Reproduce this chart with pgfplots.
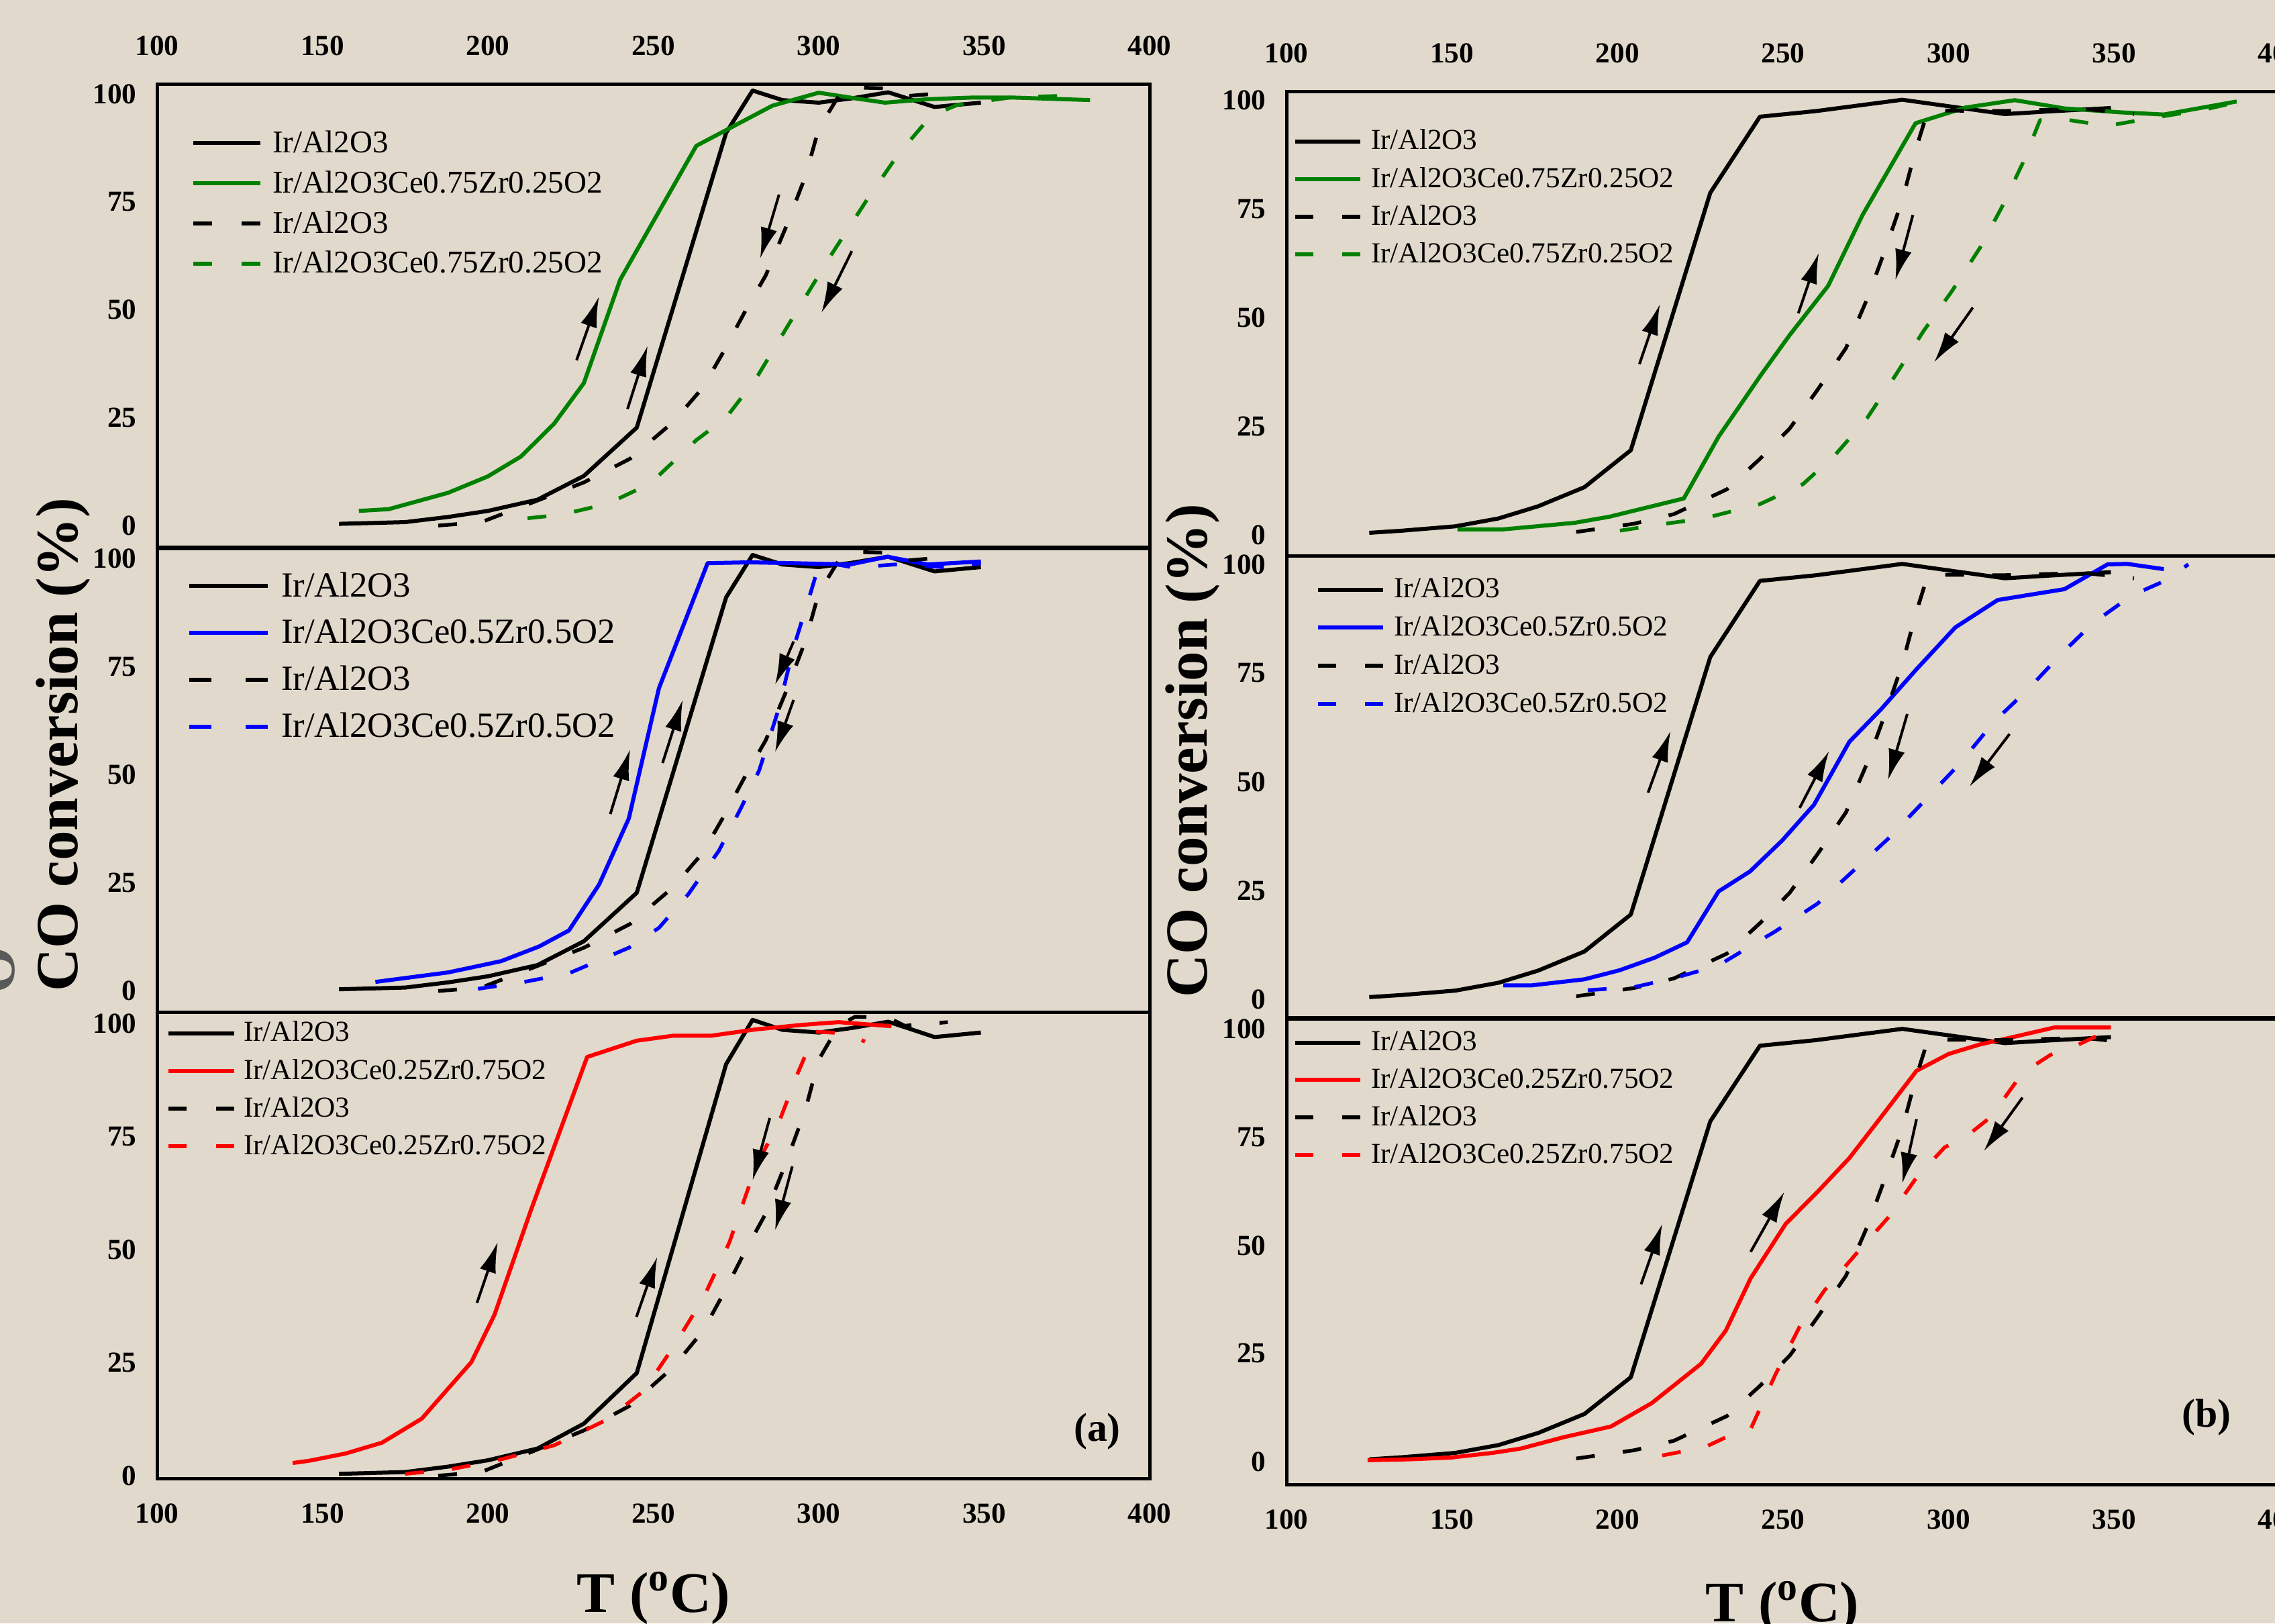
\documentclass[border=0pt]{standalone}
\usepackage{fontspec}
\setmainfont{Liberation Serif}
\usepackage{pgfplots}
\usepackage{pgfplotstable}
\pgfplotsset{compat=1.18}
\usetikzlibrary{arrows.meta}
\definecolor{bg}{RGB}{225,217,203}
\definecolor{cgreen}{RGB}{0,128,0}
\definecolor{cblue}{RGB}{0,0,255}
\definecolor{cred}{RGB}{255,0,0}

% ---------------- data ----------------
\pgfplotstableread{
x y
155 0.4
175 0.8
188 2.0
200 3.4
215 6.0
229 11.5
245 22.7
272 91
280 100.8
289 98.6
300 98.0
310 99.0
321 100.4
335 97.0
349 98.0
}\bsl
\pgfplotstableread{
x y
185 0
198 0.8
214 5.5
229 10
243 15.5
256 24
265 32
271 40
278 50
284 58
290 69
296 81
300 92
306 99.5
311 101.5
321 101.3
326 99.5
339 100.3
}\bdl
\pgfplotstableread{
x y
161 3.4
170 3.8
188 7.6
200 11.4
210 16
220 23.6
229 33
240 57
263 88
286 97.3
300 100.3
311 99
320 98
333 98.8
347 99.2
358 99.2
382 98.6
}\gsl
\pgfplotstableread{
x y
212 1.7
222 2.5
236 5
249 9.7
263 19.8
272 25
281 34
292 48
304 63
315 76
324 86
334 95
342 97.5
358 99.2
374 99.6
}\gdl
\pgfplotstableread{
x y
166 2.1
188 4.3
204 6.9
215.5 10.3
224.5 14
233.6 24.6
242.6 39.9
251.7 70
266.4 98.9
279 99.1
292.5 98.9
309.4 98.6
320.7 100.4
333 98.6
349 99.3
}\ubsl
\pgfplotstableread{
x y
197 0.5
211 2.1
224.5 4.1
242.6 10
251.7 14.6
260.6 22.4
269.8 32.4
276.5 42.3
282 51
287.8 65
292.4 79.4
297 90.7
300.4 99.3
310.6 97.9
323 98.6
340 97.9
349 98.9
}\ubdl
\pgfplotstableread{
x y
141 2.8
146 3.3
157 4.9
168 7.3
180 12.6
195 25.1
202 35.6
213 58.7
230 92.6
245 96.2
256 97.3
267.5 97.3
281 98.7
295 99.7
306 100.3
322 99.4
}\rsl
\pgfplotstableread{
x y
175 0.4
188 1.3
204 3.6
220 6.7
236 12.4
247 18.7
256 28.4
265 39.1
273 51.6
281 68.4
288 78.2
293.6 88.9
299 98.2
308 97.8
314 96
}\rdl
% right column
\pgfplotstableread{
x y
125 0.5
135 1.0
151 2.0
164 3.8
176 6.6
190 11
204 19.5
228 78.7
243 96.2
260 97.5
286 100.1
317 96.8
330 97.4
349 98.2
}\bsr
\pgfplotstableread{
x y
187.5 0.7
205 2.6
217 4.8
233 10.5
243 17.5
252 24.5
260.5 33.5
269 43
275.5 54.5
281 66
286 77
290 88.5
293.5 97
298.8 97.6
316 97.5
341 98
356 96.8
}\bdr
\pgfplotstableread{
x y
151.6 1.3
165.5 1.3
187 2.8
197.5 4.2
220 8.4
230.5 22.6
243.3 36.8
252 46
263.6 57.3
274 73.6
290 94.7
305 98.3
320 100
335 98.1
352 97.2
365 96.7
387 99.7
}\gsr
\pgfplotstableread{
x y
200.7 1
213.5 2.5
226 3.8
243 7.1
256 11.7
265.7 18.4
275.3 26.8
284 36.8
292.4 46.9
301 56.1
309.5 66.1
316 75.3
322.3 85.4
327.6 95.4
333 95.8
348 94.1
360.7 95.8
377.7 97.9
387.3 99.6
}\gdr
\pgfplotstableread{
x y
165.5 3.2
174 3.2
190 4.6
200.7 6.7
211.3 9.6
221 13.1
230.5 24.8
240 29.4
249.7 36.5
259.3 44.7
270 59.2
279.6 66.7
290.3 75.9
302 85.5
314.8 91.8
335 94.3
348 100
354 100.1
365 98.9
}\ubsr
\pgfplotstableread{
x y
191 2.1
205 2.8
217.7 5
230.5 7.8
239 11.7
247.6 15.6
260.4 22
272 30.1
281.7 36.9
292.4 45.4
303 53.9
313.7 63.8
324.4 71.6
334 79.4
343.6 86.5
355.4 92.9
365 96.1
372.4 100
}\ubdr
\pgfplotstableread{
x y
124.5 0.3
136.7 0.5
149.5 0.9
162.3 2
170.8 3
183.6 5.6
198 8.1
210.3 13.5
225.2 22.6
232.7 30.3
240.2 42.4
250.8 55
260.4 62.4
270 70.2
279.6 79.7
290.3 90.4
300 94.3
309.5 96.5
320 98.3
331.8 100.4
349 100.4
}\rsr
\pgfplotstableread{
x y
213.5 1.4
226.3 3.3
232.7 5.6
240.2 7.5
247.6 20
255 31.2
262.5 39.6
272 48
281.7 56.4
290.3 65.7
298.8 72.7
305 75
312.7 79.7
322.3 89.9
330.8 94.1
339.3 96.5
349 100
}\rdr

\tikzset{
  sl/.style={line width=0.6mm, line join=round},
  dl/.style={line width=0.55mm, line join=round, dash pattern=on 2.8mm off 4.2mm},
  arr/.style={line width=0.4mm, -{Latex[length=4.6mm,width=2.5mm]}},
}
\pgfplotsset{
  panel/.style={
    scale only axis,
    xmin=100, xmax=400,
    xtick={100,150,...,400}, ytick={0,25,50,75,100},
    major tick length=0pt,
    axis line style={line width=0.5mm},
    ticklabel style={font=\bfseries\fontsize{12.3}{14}\selectfont},
    /pgf/number format/assume math mode=true,
    yticklabel style={inner sep=0pt, xshift=-3mm},
    xticklabel style={inner sep=0pt},
    legend cell align=left,
    anchor=south west,
  },
  toplab/.style={xticklabel pos=upper, xticklabel style={yshift=4.2mm}},
  nolab/.style={xticklabels={}},
  botlab/.style={xticklabel style={yshift=-3.7mm}},
  lg/.style n args={5}{% xshift, yshift, rowsep, fontsize, colsep
    legend style={at={(axis description cs:0,1)}, anchor=north west,
      xshift=#1, yshift=#2, draw=none, fill=none, inner sep=0pt, outer sep=0pt,
      row sep=#3, font=\fontsize{#4}{#4}\selectfont,
      nodes={inner sep=0pt},
      /tikz/every odd column/.append style={column sep=#5}},
  },
}

\begin{document}
\begin{tikzpicture}
\useasboundingbox (0,0) rectangle (339mm,241.9mm);
\clip (0,0) rectangle (339mm,241.9mm);
\fill[bg] (0,0) rectangle (339mm,241.9mm);

% ================= LEFT TOP =================
\begin{axis}[panel, toplab, at={(23.4mm,160.3mm)}, width=147.9mm, height=69.0mm,
  ymin=-5.1, ymax=102.2,
  lg={5.1mm}{-6.85mm}{2.2mm}{13.4}{1.5mm},
  legend image code/.code={\draw[#1] (0mm,0mm) -- (10mm,0mm);}]
\addlegendimage{black, line width=0.6mm}
\addlegendimage{cgreen, line width=0.6mm}
\addlegendimage{black, line width=0.6mm, dash pattern=on 2.8mm off 4.4mm}
\addlegendimage{cgreen, line width=0.6mm, dash pattern=on 2.8mm off 4.4mm}
\addplot[black, sl, forget plot] table {\bsl};
\addplot[cgreen, sl, forget plot] table {\gsl};
\addplot[black, dl, forget plot] table {\bdl};
\addplot[cgreen, dl, forget plot] table {\gdl};
\legend{Ir/Al2O3, Ir/Al2O3Ce0.75Zr0.25O2, Ir/Al2O3, Ir/Al2O3Ce0.75Zr0.25O2}
\draw[arr] (axis cs:226.8,38.3) -- (axis cs:233.6,53.1);
\draw[arr] (axis cs:242.2,27) -- (axis cs:248.3,41.7);
\draw[arr] (axis cs:288,76.7) -- (axis cs:282.3,61.9);
\draw[arr] (axis cs:310,63.6) -- (axis cs:300.8,49.3);
\end{axis}

% ================= LEFT MIDDLE =================
\begin{axis}[panel, nolab, at={(23.4mm,91.0mm)}, width=147.9mm, height=69.1mm,
  ymin=-5, ymax=102.2,
  lg={4.5mm}{-3.45mm}{2.8mm}{15}{1.7mm},
  legend image code/.code={\draw[#1] (0mm,0mm) -- (11.7mm,0mm);}]
\addlegendimage{black, line width=0.6mm}
\addlegendimage{cblue, line width=0.6mm}
\addlegendimage{black, line width=0.6mm, dash pattern=on 3.3mm off 5.1mm}
\addlegendimage{cblue, line width=0.6mm, dash pattern=on 3.3mm off 5.1mm}
\addplot[black, sl, forget plot] table {\bsl};
\addplot[cblue, sl, forget plot] table {\ubsl};
\addplot[black, dl, forget plot] table {\bdl};
\addplot[cblue, dl, forget plot] table {\ubdl};
\legend{Ir/Al2O3, Ir/Al2O3Ce0.5Zr0.5O2, Ir/Al2O3, Ir/Al2O3Ce0.5Zr0.5O2}
\draw[arr] (axis cs:237,40.9) -- (axis cs:243,55.9);
\draw[arr] (axis cs:252.8,52.7) -- (axis cs:258.9,67.3);
\draw[arr] (axis cs:292.4,80.8) -- (axis cs:286.8,70.8);
\draw[arr] (axis cs:292.4,67.3) -- (axis cs:286.8,55.2);
\end{axis}

% ================= LEFT BOTTOM =================
\begin{axis}[panel, botlab, at={(23.4mm,21.6mm)}, width=147.9mm, height=69.4mm,
  ymin=-0.6, ymax=102.4,
  lg={1.4mm}{-1.3mm}{2.1mm}{12.3}{1.1mm},
  legend image code/.code={\draw[#1] (0mm,0mm) -- (9.8mm,0mm);}]
\addlegendimage{black, line width=0.6mm}
\addlegendimage{cred, line width=0.6mm}
\addlegendimage{black, line width=0.6mm, dash pattern=on 2.7mm off 4.4mm}
\addlegendimage{cred, line width=0.6mm, dash pattern=on 2.7mm off 4.4mm}
\addplot[black, sl, forget plot] table {\bsl};
\addplot[cred, sl, forget plot] table {\rsl};
\addplot[black, dl, forget plot] table {\bdl};
\addplot[cred, dl, forget plot] table {\rdl};
\legend{Ir/Al2O3, Ir/Al2O3Ce0.25Zr0.75O2, Ir/Al2O3, Ir/Al2O3Ce0.25Zr0.75O2}
\draw[arr] (axis cs:196.7,38.2) -- (axis cs:203,51.7);
\draw[arr] (axis cs:244.9,35.1) -- (axis cs:251.2,48.4);
\draw[arr] (axis cs:285.2,79.1) -- (axis cs:280,65.3);
\draw[arr] (axis cs:292,68.4) -- (axis cs:286.8,54.2);
\end{axis}

% ================= RIGHT TOP =================
\begin{axis}[panel, toplab, at={(191.7mm,159.0mm)}, width=148.0mm, height=69.2mm,
  ymin=-4.9, ymax=101.9,
  lg={1.0mm}{-5.6mm}{2.1mm}{12.3}{1.3mm},
  legend image code/.code={\draw[#1] (0mm,0mm) -- (9.7mm,0mm);}]
\addlegendimage{black, line width=0.6mm}
\addlegendimage{cgreen, line width=0.6mm}
\addlegendimage{black, line width=0.6mm, dash pattern=on 2.7mm off 4.3mm}
\addlegendimage{cgreen, line width=0.6mm, dash pattern=on 2.7mm off 4.3mm}
\addplot[black, sl, forget plot] table {\bsr};
\addplot[cgreen, sl, forget plot] table {\gsr};
\addplot[black, dl, forget plot] table {\bdr};
\addplot[cgreen, dl, forget plot] table {\gdr};
\legend{Ir/Al2O3, Ir/Al2O3Ce0.75Zr0.25O2, Ir/Al2O3, Ir/Al2O3Ce0.75Zr0.25O2}
\draw[arr] (axis cs:206.6,39.3) -- (axis cs:212.8,53.1);
\draw[arr] (axis cs:254.6,51) -- (axis cs:260.8,64.9);
\draw[arr] (axis cs:289.2,73.6) -- (axis cs:283.9,58.6);
\draw[arr] (axis cs:307.3,52.3) -- (axis cs:295.6,39.7);
\end{axis}

% ================= RIGHT MIDDLE =================
\begin{axis}[panel, nolab, at={(191.7mm,90.2mm)}, width=148.0mm, height=68.8mm,
  ymin=-4.3, ymax=101.85,
  lg={4.4mm}{-3.2mm}{2.15mm}{12.3}{1.3mm},
  legend image code/.code={\draw[#1] (0mm,0mm) -- (9.7mm,0mm);}]
\addlegendimage{black, line width=0.6mm}
\addlegendimage{cblue, line width=0.6mm}
\addlegendimage{black, line width=0.6mm, dash pattern=on 2.7mm off 4.3mm}
\addlegendimage{cblue, line width=0.6mm, dash pattern=on 2.7mm off 4.3mm}
\addplot[black, sl, forget plot] table {\bsr};
\addplot[cblue, sl, forget plot] table {\ubsr};
\addplot[black, dl, forget plot] table {\bdr};
\addplot[cblue, dl, forget plot] table {\ubdr};
\legend{Ir/Al2O3, Ir/Al2O3Ce0.5Zr0.5O2, Ir/Al2O3, Ir/Al2O3Ce0.5Zr0.5O2}
\draw[arr] (axis cs:209.2,47.5) -- (axis cs:216,61.7);
\draw[arr] (axis cs:255,44) -- (axis cs:263.9,57.1);
\draw[arr] (axis cs:287.5,65.6) -- (axis cs:281.7,50.4);
\draw[arr] (axis cs:318.4,61) -- (axis cs:306.3,48.9);
\end{axis}

% ================= RIGHT BOTTOM =================
\begin{axis}[panel, botlab, at={(191.7mm,20.7mm)}, width=148.0mm, height=69.3mm,
  ymin=-5.3, ymax=102.3,
  lg={1.0mm}{-1.7mm}{2.05mm}{12.3}{1.3mm},
  legend image code/.code={\draw[#1] (0mm,0mm) -- (9.7mm,0mm);}]
\addlegendimage{black, line width=0.6mm}
\addlegendimage{cred, line width=0.6mm}
\addlegendimage{black, line width=0.6mm, dash pattern=on 2.7mm off 4.3mm}
\addlegendimage{cred, line width=0.6mm, dash pattern=on 2.7mm off 4.3mm}
\addplot[black, sl, forget plot] table {\bsr};
\addplot[cred, sl, forget plot] table {\rsr};
\addplot[black, dl, forget plot] table {\bdr};
\addplot[cred, dl, forget plot] table {\rdr};
\legend{Ir/Al2O3, Ir/Al2O3Ce0.25Zr0.75O2, Ir/Al2O3, Ir/Al2O3Ce0.25Zr0.75O2}
\draw[arr] (axis cs:207.1,41) -- (axis cs:213.5,55);
\draw[arr] (axis cs:240.2,48.5) -- (axis cs:250.4,62.4);
\draw[arr] (axis cs:290.3,79.2) -- (axis cs:286,64.3);
\draw[arr] (axis cs:322.3,84.2) -- (axis cs:310.6,71.8);
\end{axis}

% ================= labels =================
\node[rotate=90, anchor=base, font=\bfseries\fontsize{25.3}{28}\selectfont] at (11.5mm,130.9mm) {CO conversion (\%)};
\node[rotate=90, anchor=base, font=\bfseries\fontsize{25.3}{28}\selectfont] at (179.8mm,130.0mm) {CO conversion (\%)};
\node[anchor=base, font=\bfseries\fontsize{24.3}{27}\selectfont] at (97.4mm,1.7mm) {T (\textsuperscript{o}C)};
\node[anchor=base, font=\bfseries\fontsize{24.3}{27}\selectfont] at (265.6mm,0.3mm) {T (\textsuperscript{o}C)};
\node[font=\bfseries\fontsize{17}{19}\selectfont] at (163.5mm,28.6mm) {(a)};
\node[font=\bfseries\fontsize{17}{19}\selectfont] at (328.8mm,30.7mm) {(b)};
\node[rotate=90, font=\bfseries\fontsize{25.3}{28}\selectfont, text=black!65] at (-0.8mm,97.3mm) {O};
\end{tikzpicture}
\end{document}
